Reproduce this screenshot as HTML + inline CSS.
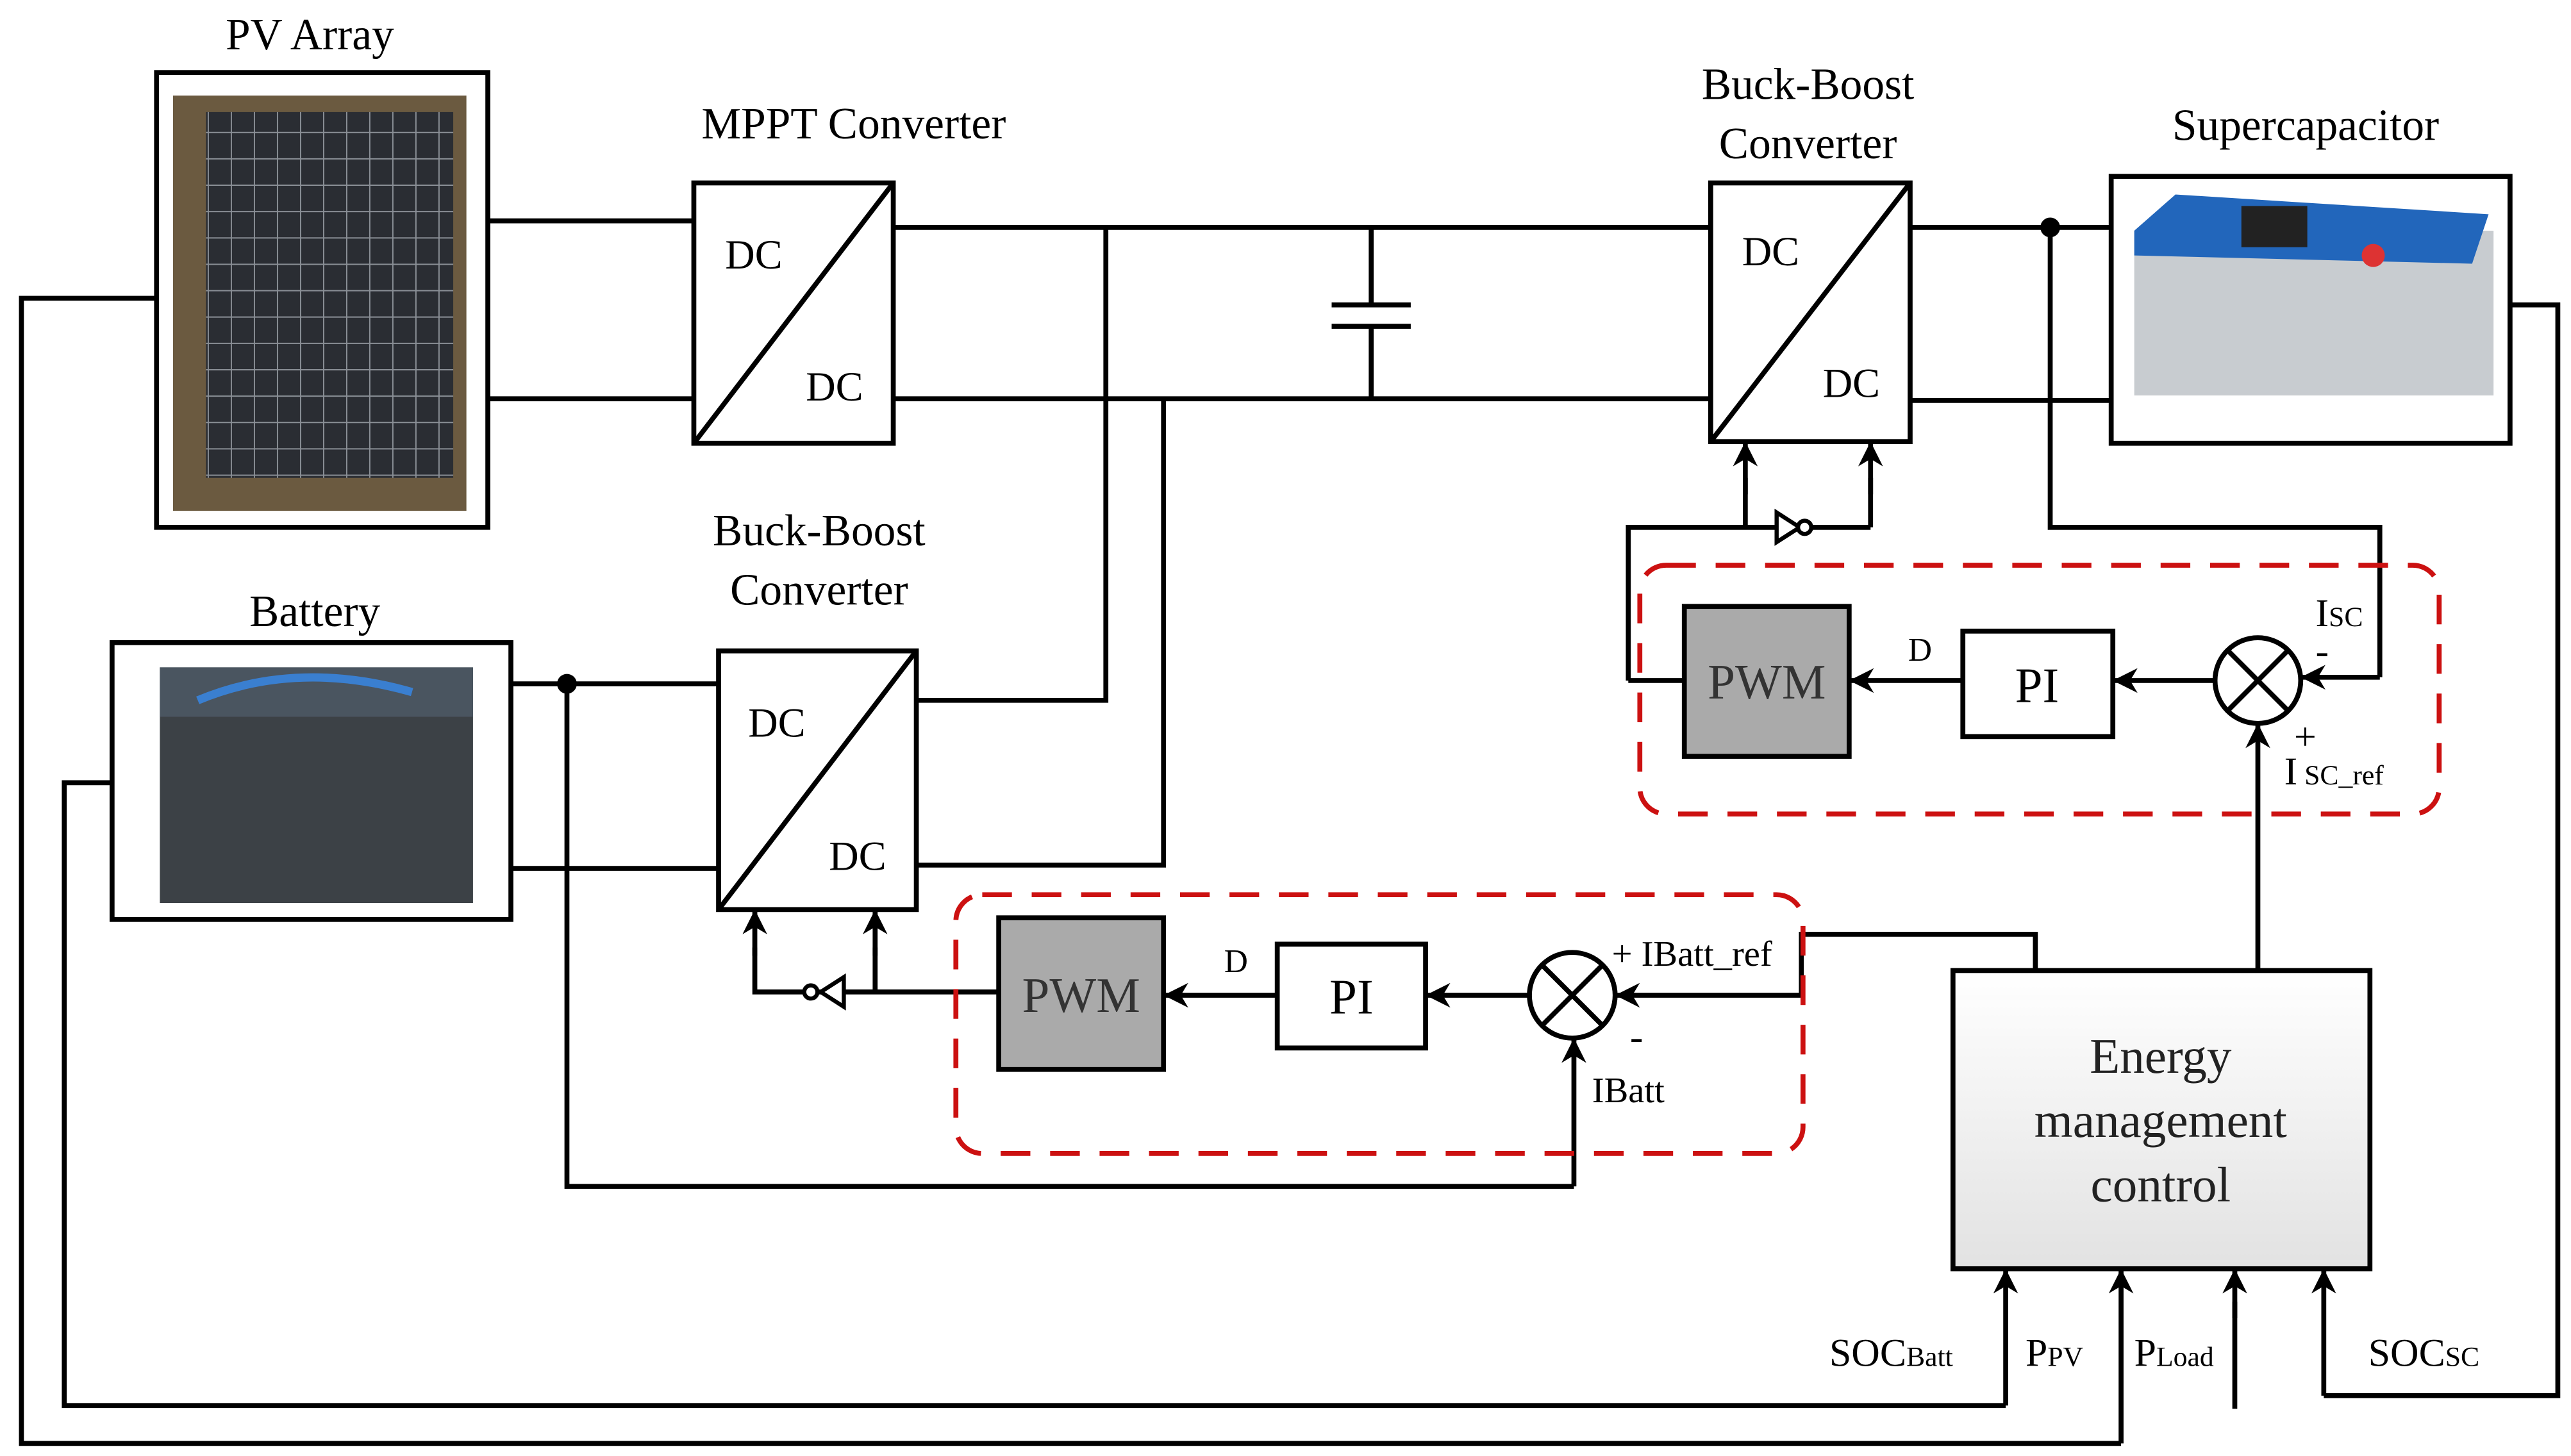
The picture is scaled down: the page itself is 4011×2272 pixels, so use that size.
<!DOCTYPE html>
<html><head><meta charset="utf-8"><style>body{margin:0;background:#fff}svg{display:block}</style></head><body>
<svg xmlns="http://www.w3.org/2000/svg" width="4011" height="2272" viewBox="0 0 1560 883.6">
<defs>
<marker id="a" viewBox="0 0 10 10" refX="10" refY="5" markerWidth="5" markerHeight="5" orient="auto"><path d="M0,0L10,5L0,10L3,5z" fill="#000"/></marker>
<linearGradient id="g" x1="0" y1="0" x2="0" y2="1"><stop offset="0" stop-color="#fff"/><stop offset="1" stop-color="#e2e2e2"/></linearGradient>
<pattern id="pv" width="14" height="16" patternUnits="userSpaceOnUse"><rect width="14" height="16" fill="#2a2d33"/><path d="M0,0H14M0,0V16" stroke="#8a8f96" stroke-width="1.5"/></pattern>
</defs>
<rect x="105" y="58" width="178" height="252" fill="#6b5a40"/>
<rect x="125" y="68" width="150" height="222" fill="url(#pv)"/>
<rect x="97" y="405" width="190" height="143" fill="#3c4146"/>
<rect x="97" y="405" width="190" height="30" fill="#4a5560"/>
<path d="M120,425Q180,400 250,420" stroke="#3a7fd0" stroke-width="5" fill="none"/>
<rect x="1295" y="140" width="218" height="100" fill="#c8ccd0"/>
<polygon points="1295,140 1320,118 1510,130 1500,160 1295,155" fill="#2266bb"/>
<rect x="1360" y="125" width="40" height="25" fill="#222"/>
<circle cx="1440" cy="155" r="7" fill="#d33"/>
<g stroke="#000" stroke-width="3" fill="none">
<rect x="95" y="44" width="201" height="276"/>
<rect x="68" y="390" width="242" height="168"/>
<rect x="1281" y="107" width="242" height="162"/>
<rect x="421" y="111" width="121" height="158"/><path d="M421,269L542,111"/>
<rect x="1038" y="111" width="121" height="157"/><path d="M1038,268L1159,111"/>
<rect x="436" y="395" width="120" height="157"/><path d="M436,552L556,395"/>
<rect x="1022" y="368" width="100" height="91" fill="#aaa"/>
<rect x="606" y="557" width="100" height="92" fill="#aaa"/>
<rect x="1191" y="383" width="91" height="64"/>
<rect x="775" y="573" width="90" height="63"/>
<rect x="1185" y="589" width="253" height="181" fill="url(#g)"/>
<circle cx="1370" cy="413" r="26"/><path d="M1352,395L1388,431M1388,395L1352,431"/>
<circle cx="954" cy="604" r="26"/><path d="M936,586L972,622M972,586L936,622"/>
<path d="M296,134H421M296,242H421M542,138H1038M542,242H1038"/>
<path d="M832,138V185M808,185H856M808,198H856M832,198V242"/>
<path d="M671,138V425H556M706,242V525H556"/>
<path d="M1159,138H1281M1159,243H1281M1244,138V320H1444V411"/>
<path d="M310,415H436M310,527H436M344,415V720H955"/>
<path d="M1523,185H1552V847H1410"/>
<path d="M95,181H13V876H1287"/>
<path d="M68,475H39V853H1217"/>
<path d="M1356,855V790"/>
<path d="M988,413V320H1135M1059,320V290M1135,320V290M1022,413H988"/>
<path d="M606,602H458V575M531,602V575"/>
<path d="M1235,588V567H1093V604"/>
</g>
<g stroke="#000" stroke-width="3" fill="none" marker-end="url(#a)">
<path d="M1059,300V268"/><path d="M1135,300V268"/>
<path d="M458,580V552"/><path d="M531,580V552"/>
<path d="M1444,411H1396"/><path d="M1343,413H1282"/><path d="M1191,413H1122"/>
<path d="M1370,588V439"/>
<path d="M1093,604H980"/><path d="M928,604H865"/><path d="M775,604H706"/>
<path d="M955,720V630"/>
<path d="M1217,853V770"/><path d="M1287,876V770"/><path d="M1356,800V770"/><path d="M1410,847V770"/>
</g>
<g stroke="#000" stroke-width="2.5" fill="#fff">
<polygon points="1078,311 1078,329 1092,320"/><circle cx="1095" cy="320" r="4"/>
<polygon points="512,593 512,611 498,602"/><circle cx="492" cy="602" r="4"/>
</g>
<g fill="#000"><circle cx="1244" cy="138" r="6"/><circle cx="344" cy="415" r="6"/></g>
<g stroke="#cc1111" stroke-width="3" fill="none" stroke-dasharray="18,12">
<rect x="995" y="343" width="485" height="151" rx="16"/>
<rect x="580" y="543" width="514" height="157" rx="16"/>
</g>
<g font-family="Liberation Serif,serif" fill="#000" stroke="none">
<text x="188" y="30" font-size="27" text-anchor="middle">PV Array</text>
<text x="518" y="84" font-size="27" text-anchor="middle">MPPT Converter</text>
<text x="1097" y="60" font-size="27" text-anchor="middle">Buck-Boost</text>
<text x="1097" y="96" font-size="27" text-anchor="middle">Converter</text>
<text x="1399" y="85" font-size="27" text-anchor="middle">Supercapacitor</text>
<text x="497" y="331" font-size="27" text-anchor="middle">Buck-Boost</text>
<text x="497" y="367" font-size="27" text-anchor="middle">Converter</text>
<text x="191" y="380" font-size="27" text-anchor="middle">Battery</text>
<g font-size="25"><text x="440" y="163">DC</text><text x="489" y="243">DC</text>
<text x="1057" y="161">DC</text><text x="1106" y="241">DC</text>
<text x="454" y="447">DC</text><text x="503" y="528">DC</text></g>
<text x="1072" y="424" font-size="30" text-anchor="middle" fill="#333">PWM</text>
<text x="656" y="614" font-size="30" text-anchor="middle" fill="#333">PWM</text>
<text x="1236" y="426" font-size="30" text-anchor="middle">PI</text>
<text x="820" y="615" font-size="30" text-anchor="middle">PI</text>
<text x="1165" y="401" font-size="20" text-anchor="middle">D</text>
<text x="750" y="590" font-size="20" text-anchor="middle">D</text>
<text x="1405" y="380" font-size="24">I<tspan font-size="17">SC</tspan></text>
<text x="1405" y="403" font-size="24">-</text>
<text x="1392" y="455" font-size="24">+</text>
<text x="1386" y="476" font-size="24">I<tspan font-size="17"> SC_ref</tspan></text>
<text x="978" y="586" font-size="22">+ IBatt_ref</text>
<text x="989" y="637" font-size="24">-</text>
<text x="966" y="669" font-size="22">IBatt</text>
<g font-size="30" text-anchor="middle" fill="#222"><text x="1311" y="651">Energy</text><text x="1311" y="690">management</text><text x="1311" y="729">control</text></g>
<g font-size="24"><text x="1110" y="829">SOC<tspan font-size="17">Batt</tspan></text>
<text x="1229" y="829">P<tspan font-size="17">PV</tspan></text>
<text x="1295" y="829">P<tspan font-size="17">Load</tspan></text>
<text x="1437" y="829">SOC<tspan font-size="17">SC</tspan></text></g>
</g>
</svg>
</body></html>
